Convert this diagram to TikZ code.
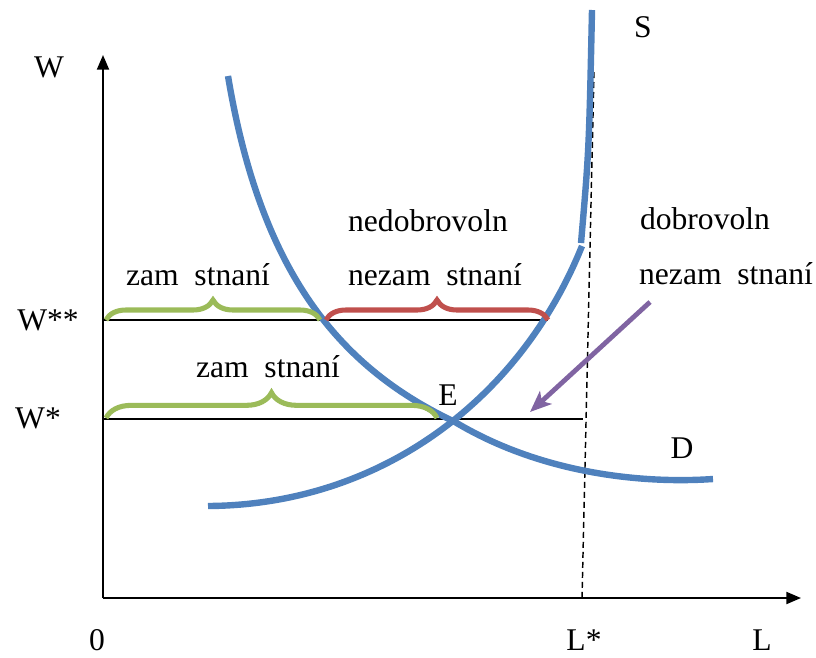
\documentclass[tikz,border=0pt]{standalone}
\usepackage{fontspec}
\setmainfont{Liberation Serif}
\usetikzlibrary{arrows.meta, positioning, decorations.pathreplacing}
\definecolor{curveBlue}{RGB}{79, 129, 189}
\definecolor{braceGreen}{RGB}{155, 187, 89}
\definecolor{braceRed}{RGB}{192, 80, 77}
\definecolor{arrowPurple}{RGB}{128, 100, 162}

\begin{document}
\begin{tikzpicture}[x=0.75pt, y=-0.75pt, every node/.style={font=\fontsize{23.7}{28}\selectfont, anchor=base, inner sep=0pt},
    axis/.style={line width=1.5pt, -{Triangle[length=11pt, width=9pt]}},
    level/.style={line width=1.1pt},
    curve/.style={line width=4.8pt, curveBlue},
    gap/.style={line width=3.8pt, decorate, decoration={brace, amplitude=#1}}]
    \useasboundingbox (0,0) rectangle (816,657);
    % axes
    \coordinate (O) at (103,598);
    \coordinate (ytop) at (103,55);
    \coordinate (xend) at (801,598);
    \draw[axis] (O) -- (ytop);
    \draw[axis] (O) -- (xend);
    \node (wlab) at (49,77) {W};
    \node (llab) at (762,650) {L};
    \node (zero) at (97,650) {0};
    \node (lstar) at (584,650) {L*};
    \node (wss) at (48,330) {W**};
    \node (ws) at (38,428) {W*};
    % wage levels
    \coordinate (wssL) at (103,320);
    \coordinate (wssR) at (548,320);
    \coordinate (wsL) at (103,419);
    \coordinate (wsR) at (583,419);
    \draw[level] (wssL) -- (wssR);
    \draw[level] (wsL) -- (wsR);
    \coordinate (ltop) at (594,72);
    \coordinate (lbot) at (582,598);
    \draw[line width=1.1pt, dash pattern=on 4.5pt off 3pt] (ltop) -- (lbot);
    % supply and demand
    \draw[curve] (592,10) .. controls (589,150) .. (581,243);
    \draw[curve] (208,506) .. controls (380,505) and (520,400) .. (582,246);
    \draw[curve] (228,76) .. controls (262,280) and (345,370) .. (455,422)
        .. controls (540,473) and (640,484) .. (713,479);
    \node (slab) at (643,37) {S};
    \node (dlab) at (682,458) {D};
    \node (elab) at (448,405) {E};
    % braces
    \draw[gap=15pt, braceGreen] (106,320) -- (320,320);
    \draw[gap=15pt, braceRed] (326,320) -- (548,320);
    \draw[gap=19pt, braceGreen] (106,418) -- (437,418);
    \node (emp1) at (198,285) {zam\ \ stnaní};
    \node (inv1) at (428,231) {nedobrovoln};
    \node (inv2) at (435,285) {nezam\ \ stnaní};
    \node (vol1) at (705,229) {dobrovoln};
    \node (vol2) at (726,284) {nezam\ \ stnaní};
    \node (emp2) at (268,377) {zam\ \ stnaní};
    \coordinate (pstart) at (650,302);
    \coordinate (pend) at (530,412);
    \draw[line width=3.6pt, arrowPurple, -{Stealth[length=16pt, width=13pt, inset=4pt]}] (pstart) -- (pend);
\end{tikzpicture}
\end{document}
